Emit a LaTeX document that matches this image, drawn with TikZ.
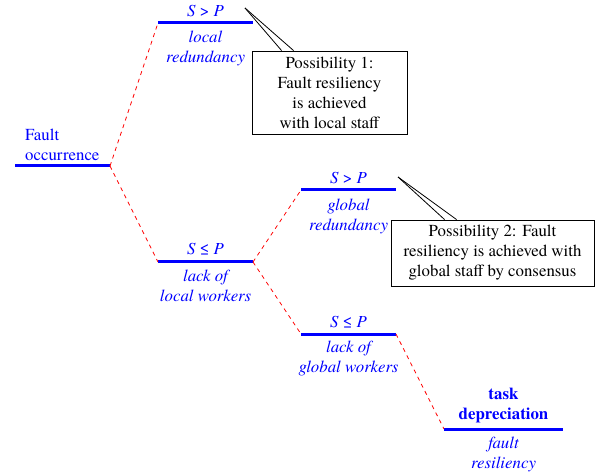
\documentclass[tikz,border=0pt]{standalone}
\usepackage{fontspec}
\setmainfont{texgyretermes}[Extension=.otf, UprightFont=*-regular, ItalicFont=*-italic, BoldFont=*-bold, BoldItalicFont=*-bolditalic]
\newcommand\figfs{\fontsize{16.9}{20}\selectfont}
\newcommand\SgP{S\hspace{0.25em}{\upshape >}\hspace{0.25em}P}
\newcommand\SleP{S\hspace{0.25em}{\upshape ≤}\hspace{0.25em}P}
\begin{document}
\begin{tikzpicture}[x=1bp,y=-1bp,
  bar/.style={draw=blue, line width=3bp},
  link/.style={draw=red, dash pattern=on 4bp off 4bp, line width=0.8bp},
  lbl/.style={text=blue, font=\figfs\itshape, inner sep=0pt, align=center},
  box/.style={draw=black, line width=0.8bp, font=\figfs, align=center, inner sep=0pt},
  pointer/.style={draw=black, line width=0.8bp}]
\useasboundingbox (0,0) rectangle (596,474);
% bar end points
\coordinate (r0) at (15,166);  \coordinate (r1) at (110,166);
\coordinate (a0) at (158,23);  \coordinate (a1) at (253,23);
\coordinate (b0) at (158,262); \coordinate (b1) at (253,262);
\coordinate (c0) at (301,190); \coordinate (c1) at (396,190);
\coordinate (d0) at (301,334); \coordinate (d1) at (396,334);
\coordinate (e0) at (444,429); \coordinate (e1) at (563,429);
% bars
\draw[bar] (r0) -- (r1);
\draw[bar] (a0) -- (a1);
\draw[bar] (b0) -- (b1);
\draw[bar] (c0) -- (c1);
\draw[bar] (d0) -- (d1);
\draw[bar] (e0) -- (e1);
% links
\draw[link] (r1) -- (a0);
\draw[link] (r1) -- (b0);
\draw[link] (b1) -- (c0);
\draw[link] (b1) -- (d0);
\draw[link] (d1) -- (e0);
% labels
\node[lbl, font=\figfs, align=left, anchor=north west] (rT) at (25,129) {Fault\\occurrence};
\node[lbl, anchor=base] (aS) at (205.5,17) {\SgP};
\node[lbl, anchor=north] (aT) at (205.5,31) {local\\redundancy};
\node[lbl, anchor=base] (bS) at (205.5,255) {\SleP};
\node[lbl, anchor=north] (bT) at (205.5,270) {lack of\\local workers};
\node[lbl, anchor=base] (cS) at (348.5,184) {\SgP};
\node[lbl, anchor=north] (cT) at (348.5,199) {global\\redundancy};
\node[lbl, anchor=base] (dS) at (348.5,327) {\SleP};
\node[lbl, anchor=north] (dT) at (348.5,341) {lack of\\global workers};
\node[lbl, font=\figfs\bfseries, anchor=north] (eS) at (503.5,388) {task\\depreciation};
\node[lbl, anchor=north] (eT) at (503.5,437) {fault\\resiliency};
% callouts
\node[box, minimum width=155bp, minimum height=83bp] (p1) at (329.5,92.5)
  {Possibility 1:\\Fault resiliency\\is achieved\\with local staff};
\node[box, minimum width=203bp, minimum height=66bp] (p2) at (492.5,253)
  {Possibility 2: Fault\\resiliency is achieved with\\global staff by consensus};
\coordinate (t1) at (245,8);
\coordinate (t2) at (398,177);
\draw[pointer] (t1) -- ([xshift=30bp]p1.north west);
\draw[pointer] (t1) -- ([xshift=42bp]p1.north west);
\draw[pointer] (t2) -- ([xshift=54bp]p2.north west);
\draw[pointer] (t2) -- ([xshift=66bp]p2.north west);
\end{tikzpicture}
\end{document}
